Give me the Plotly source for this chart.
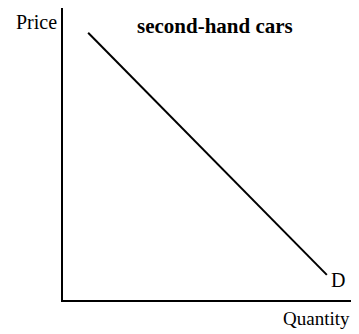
import plotly.graph_objects as go

# Demand curve endpoints (data units, axes 0..10)
quantity = [0.87, 9.13]
price = [9.15, 0.86]
title_text = "second-hand cars"
x_label = "Quantity"
y_label = "Price"
curve_label = "D"

fig = go.Figure()
fig.add_trace(go.Scatter(x=quantity, y=price, mode="lines",
                         line=dict(color="black", width=2), showlegend=False,
                         hoverinfo="skip"))

font = "Liberation Serif, Times New Roman, serif"

def ann(text, x, y, size):
    return dict(text=text, x=x, y=y, xref="paper", yref="paper",
                xanchor="center", yanchor="middle", showarrow=False,
                font=dict(family=font, size=size, color="black"))

fig.update_layout(
    width=351, height=326,
    margin=dict(l=55, r=7, t=0, b=34),
    paper_bgcolor="white", plot_bgcolor="white",
    xaxis=dict(range=[0, 10], showline=True, linecolor="black", linewidth=2,
               showgrid=False, zeroline=False, showticklabels=False, ticks=""),
    yaxis=dict(range=[0, 10], showline=True, linecolor="black", linewidth=2,
               showgrid=False, zeroline=False, showticklabels=False, ticks=""),
    annotations=[
        ann(y_label, -0.093, 0.953, 20),
        ann("<b>" + title_text + "</b>", 0.526, 0.94, 21),
        ann(curve_label, 0.952, 0.068, 20),
        ann(x_label, 0.878, -0.064, 19),
    ],
)
fig.write_html("out.html")
